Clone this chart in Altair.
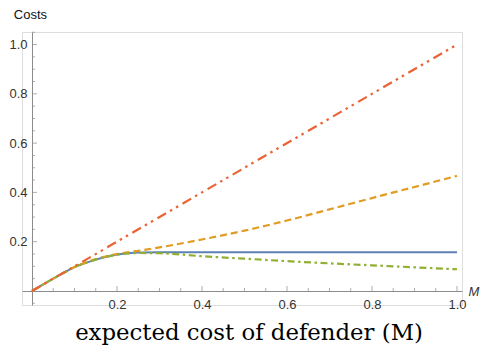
import altair as alt
import pandas as pd

# ---- data ----
m_vals = [0, 0.05, 0.075, 0.1, 0.125, 0.15, 0.175, 0.2, 0.225, 0.25, 0.3, 0.4, 0.5, 0.6, 0.7, 0.8, 0.9, 1.0]
blue_vals = [0, 0.05, 0.074, 0.097, 0.113, 0.127, 0.139, 0.148, 0.153, 0.156, 0.157, 0.157, 0.157, 0.157, 0.157, 0.157, 0.157, 0.157]
orange_vals = [0, 0.05, 0.074, 0.097, 0.114, 0.129, 0.141, 0.150, 0.157, 0.163, 0.177, 0.209, 0.245, 0.286, 0.331, 0.377, 0.422, 0.467]
green_vals = [0, 0.05, 0.074, 0.097, 0.113, 0.127, 0.139, 0.147, 0.152, 0.154, 0.153, 0.141, 0.131, 0.121, 0.112, 0.104, 0.096, 0.088]
red_m = [0, 1.0]
red_vals = [0, 1.0]

x_major = [0.2, 0.4, 0.6, 0.8, 1.0]
x_minor = [0.05, 0.1, 0.15, 0.25, 0.3, 0.35, 0.45, 0.5, 0.55, 0.65, 0.7, 0.75, 0.85, 0.9, 0.95]
y_major = [0.2, 0.4, 0.6, 0.8, 1.0]
y_minor = [-0.05, 0.05, 0.1, 0.15, 0.25, 0.3, 0.35, 0.45, 0.5, 0.55, 0.65, 0.7, 0.75, 0.85, 0.9, 0.95, 1.05]

AX = "#8c8c8c"
LBL = "#333333"
SANS = "Liberation Sans"

def series(ms, vs):
    return pd.DataFrame({"M": ms, "C": vs})

xs = alt.Scale(domain=[-0.0235, 1.0118], nice=False, zero=False)
ys = alt.Scale(domain=[-0.057, 1.051], nice=False, zero=False)

x_axis = alt.Axis(values=x_major, format=".1f", offset=-14, ticks=False, tickSize=0,
                  grid=False, domainColor=AX, labelPadding=7, labelFont=SANS,
                  labelFontSize=13, labelColor=LBL, title="M", titleX=446, titleY=4,
                  titleAlign="left", titleBaseline="alphabetic", titleFontStyle="italic",
                  titleFont=SANS, titleFontSize=13, titleFontWeight="normal", titleColor=LBL)
y_axis = alt.Axis(values=y_major, format=".1f", offset=-10, ticks=False, tickSize=0,
                  grid=False, domainColor=AX, labelPadding=5, labelFont=SANS,
                  labelFontSize=13, labelColor=LBL, title="Costs", titleAngle=0,
                  titleX=-18.7, titleY=-14, titleAlign="left", titleBaseline="alphabetic",
                  titleFont=SANS, titleFontSize=13, titleFontWeight="normal", titleColor="#111")

def enc(ch):
    return ch.encode(x=alt.X("M:Q", scale=xs, axis=x_axis),
                     y=alt.Y("C:Q", scale=ys, axis=y_axis))

blue = enc(alt.Chart(series(m_vals, blue_vals)).mark_line(
    color="#5E81B5", strokeWidth=2, interpolate="monotone"))
orange = enc(alt.Chart(series(m_vals, orange_vals)).mark_line(
    color="#E19C24", strokeWidth=2.2, strokeDash=[7, 4], interpolate="monotone"))
green = enc(alt.Chart(series(m_vals, green_vals)).mark_line(
    color="#8FB032", strokeWidth=2.2, strokeDash=[7, 3.5, 2.5, 3.5], interpolate="monotone"))
red = enc(alt.Chart(series(red_m, red_vals)).mark_line(
    color="#EB6235", strokeWidth=2.2, strokeDash=[10, 4.5, 2.5, 4.5, 2.5, 5]))

xt_major = enc(alt.Chart(series(x_major, [0] * len(x_major))).mark_tick(
    orient="vertical", size=5, thickness=1, yOffset=-2.5, color=AX))
xt_minor = enc(alt.Chart(series(x_minor, [0] * len(x_minor))).mark_tick(
    orient="vertical", size=3, thickness=1, yOffset=-1.5, color=AX))
yt_major = enc(alt.Chart(series([0] * len(y_major), y_major)).mark_tick(
    orient="horizontal", size=5, thickness=1, xOffset=2.5, color=AX))
yt_minor = enc(alt.Chart(series([0] * len(y_minor), y_minor)).mark_tick(
    orient="horizontal", size=3, thickness=1, xOffset=1.5, color=AX))

chart = alt.layer(xt_major, xt_minor, yt_major, yt_minor, blue, orange, green, red).properties(
    width=440, height=273,
    autosize=alt.AutoSizeParams(type="none"),
    padding={"left": 14, "top": 24, "right": 18, "bottom": 40},
    title=alt.TitleParams("expected cost of defender (M)", orient="bottom", frame="group",
                          anchor="middle", baseline="alphabetic", offset=29, dx=7,
                          font="DejaVu Serif", fontSize=22.8, fontWeight="normal", color="black"),
).configure_view(stroke=None).configure(background="white")

chart.save("out.html", embed_options={"renderer": "svg", "actions": False})
